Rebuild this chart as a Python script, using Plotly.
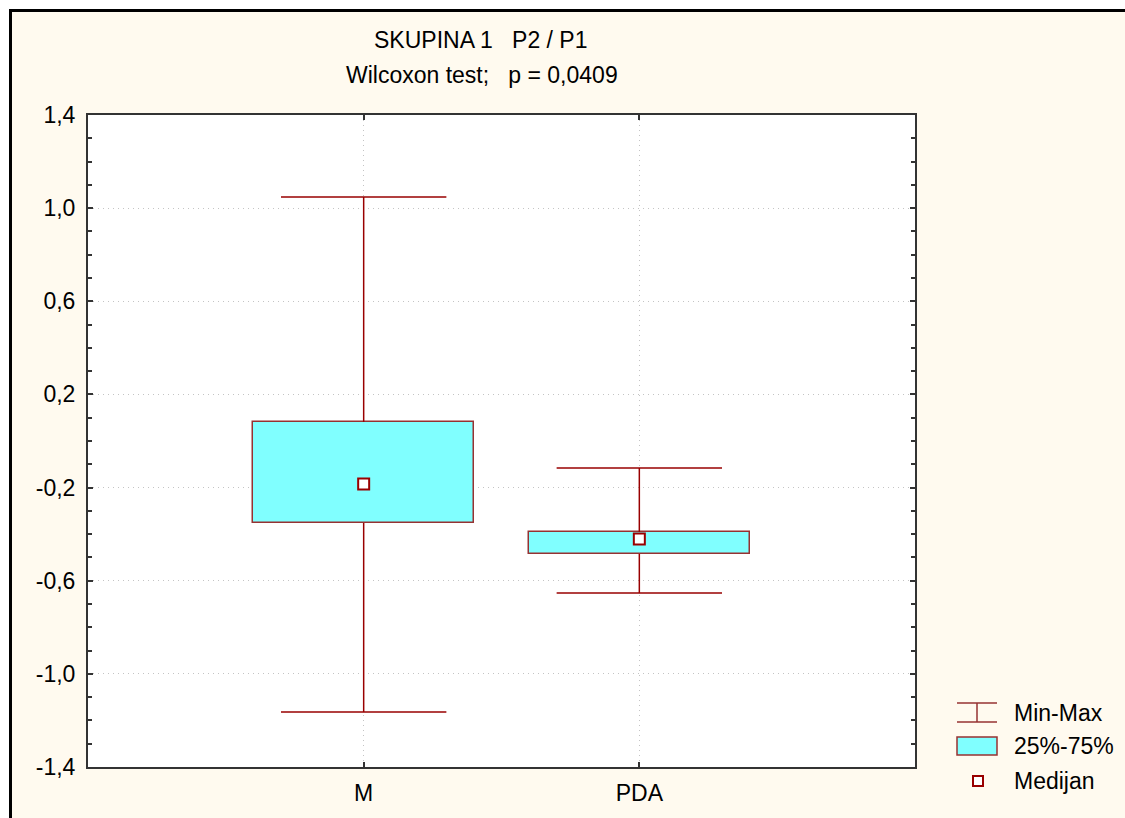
import plotly.graph_objects as go

# ---- data ----
categories = ["M", "PDA"]
positions = [0, 1]
minimum = [-1.164, -0.653]
q1 = [-0.352, -0.485]
median = [-0.185, -0.421]
q3 = [0.082, -0.391]
maximum = [1.048, -0.116]
ytick_vals = [-1.4, -1.0, -0.6, -0.2, 0.2, 0.6, 1.0, 1.4]
ytick_text = ["-1,4", "-1,0", "-0,6", "-0,2", "0,2", "0,6", "1,0", "1,4"]
title_line1 = "SKUPINA 1   P2 / P1"
title_line2 = "Wilcoxon test;   p = 0,0409"
legend_labels = ["Min-Max", "25%-75%", "Medijan"]

# ---- styles ----
W, H = 1125, 818
L, R, T, B = 88, 915, 115, 767  # plot area in screen pixels
CREAM = "#FFFAEF"
CYAN = "#80FFFF"
WHISK = "#990000"
BOXLINE = "#963232"
FONT = "Liberation Sans, Arial, sans-serif"
FS = 23
BOX_HALF = 0.4
CAP_HALF = 0.3


def px_x(px):
    return (px - L) / (R - L)


def px_y(py):
    return (B - py) / (B - T)


fig = go.Figure()

# boxes (25%-75%)
fig.add_trace(go.Bar(
    x=positions, base=q1, y=[b - a for a, b in zip(q1, q3)],
    width=2 * BOX_HALF,
    marker=dict(color=CYAN, line=dict(color=BOXLINE, width=1.5)),
    hoverinfo="skip", showlegend=False,
))

# whiskers and caps
wx, wy = [], []
for p, lo, a, b, hi in zip(positions, minimum, q1, q3, maximum):
    wx += [p, p, None, p, p, None, p - CAP_HALF, p + CAP_HALF, None, p - CAP_HALF, p + CAP_HALF, None]
    wy += [b, hi, None, a, lo, None, hi, hi, None, lo, lo, None]
fig.add_trace(go.Scatter(
    x=wx, y=wy, mode="lines", line=dict(color=WHISK, width=1.5),
    hoverinfo="skip", showlegend=False, cliponaxis=False,
))

# medians
fig.add_trace(go.Scatter(
    x=positions, y=median, mode="markers",
    marker=dict(symbol="square", size=11, color="white", line=dict(color=WHISK, width=2)),
    hoverinfo="skip", showlegend=False,
))

fig.update_layout(
    width=W, height=H,
    margin=dict(l=L, r=W - R, t=T, b=H - B, pad=0),
    paper_bgcolor=CREAM, plot_bgcolor="white",
    font=dict(family=FONT, size=FS, color="black"),
    showlegend=False,
    bargap=0,
)

GRID = dict(showgrid=True, gridcolor="#C4C4C4", griddash="1px,4px", gridwidth=1)
fig.update_xaxes(
    range=[-1, 2], tickvals=positions, ticktext=categories,
    showline=True, linecolor="#333333", linewidth=2, mirror="ticks",
    ticks="inside", ticklen=5, tickwidth=1.5, tickcolor="#333333",
    zeroline=False, ticklabelstandoff=4, **GRID,
)
fig.update_yaxes(
    range=[-1.4, 1.4], tickvals=ytick_vals, ticktext=ytick_text,
    showline=True, linecolor="#333333", linewidth=2, mirror="ticks",
    ticks="inside", ticklen=5, tickwidth=1.5, tickcolor="#333333",
    zeroline=False, ticklabelstandoff=6, **GRID,
    minor=dict(tickvals=[round(-1.4 + 0.1 * i, 1) for i in range(29)],
               ticks="inside", ticklen=4, tickcolor="#333333", showgrid=False),
)

shapes = []
# white margin outside the frame + black frame
shapes.append(dict(type="rect", xref="paper", yref="paper",
                   x0=px_x(0), x1=px_x(W + 30), y0=px_y(H + 30), y1=px_y(0),
                   line=dict(color="white", width=18), fillcolor="rgba(0,0,0,0)", layer="above"))
shapes.append(dict(type="rect", xref="paper", yref="paper",
                   x0=px_x(10.5), x1=px_x(W + 30), y0=px_y(H + 30), y1=px_y(10.5),
                   line=dict(color="black", width=3), fillcolor="rgba(0,0,0,0)", layer="above"))
# legend icons
lx0, lx1 = 957, 997
shapes.append(dict(type="line", xref="paper", yref="paper", x0=px_x(lx0), x1=px_x(lx1),
                   y0=px_y(703), y1=px_y(703), line=dict(color=BOXLINE, width=1.5)))
shapes.append(dict(type="line", xref="paper", yref="paper", x0=px_x(lx0), x1=px_x(lx1),
                   y0=px_y(722), y1=px_y(722), line=dict(color=BOXLINE, width=1.5)))
shapes.append(dict(type="line", xref="paper", yref="paper", x0=px_x(977), x1=px_x(977),
                   y0=px_y(703), y1=px_y(722), line=dict(color=BOXLINE, width=1.5)))
shapes.append(dict(type="rect", xref="paper", yref="paper", x0=px_x(lx0), x1=px_x(lx1),
                   y0=px_y(755), y1=px_y(737), line=dict(color=BOXLINE, width=1.5), fillcolor=CYAN))
shapes.append(dict(type="rect", xref="paper", yref="paper", x0=px_x(973), x1=px_x(983),
                   y0=px_y(786), y1=px_y(776), line=dict(color=WHISK, width=2), fillcolor="white"))
fig.update_layout(shapes=shapes)

annotations = [
    dict(text=title_line1, x=px_x(481), y=px_y(40)),
    dict(text=title_line2, x=px_x(482), y=px_y(75)),
]
for lab, py in zip(legend_labels, [713, 746, 781]):
    annotations.append(dict(text=lab, x=px_x(1012), y=px_y(py), xanchor="left"))
for a in annotations:
    a.update(xref="paper", yref="paper", showarrow=False, yanchor="middle",
             font=dict(family=FONT, size=FS, color="black"))
    a.setdefault("xanchor", "center")
fig.update_layout(annotations=annotations)

fig.write_html(
    "out.html",
    config={"displayModeBar": False},
    post_script="document.body.style.margin='0';document.body.style.overflow='hidden';",
)
